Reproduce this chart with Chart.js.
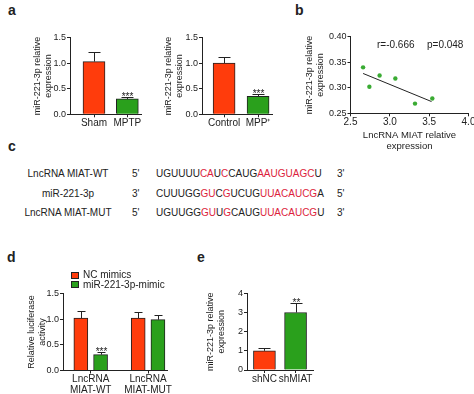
<!DOCTYPE html>
<html>
<head>
<meta charset="utf-8">
<script src="https://cdn.jsdelivr.net/npm/chart.js@4.4.1/dist/chart.umd.min.js"></script>
<style>
  html, body { margin: 0; padding: 0; background: #fff; }
  #fig { position: relative; width: 474px; height: 394px; overflow: hidden; font-family: 'Liberation Sans', Arial, sans-serif; color: #222; }
  #fig canvas { position: absolute; }
  .lbl { position: absolute; font-weight: bold; font-size: 14px; line-height: 14px; }
  .txt { position: absolute; font-size: 10px; line-height: 12px; white-space: nowrap; }
  .red { color: #dc1e3c; }
</style>
</head>
<body>
<div id="fig">
  <div class="lbl" style="left:8px;top:3px">a</div>
  <div class="lbl" style="left:295px;top:3px">b</div>
  <div class="lbl" style="left:8px;top:139px">c</div>
  <div class="lbl" style="left:7px;top:250px">d</div>
  <div class="lbl" style="left:197px;top:250px">e</div>

  <canvas id="chartA1" width="130" height="112" style="left:20px;top:20px"></canvas>
  <canvas id="chartA2" width="132" height="112" style="left:150px;top:20px"></canvas>
  <canvas id="chartB" width="185" height="140" style="left:295px;top:20px"></canvas>
  <canvas id="chartD" width="175" height="132" style="left:0px;top:262px"></canvas>
  <canvas id="chartE" width="135" height="114" style="left:195px;top:280px"></canvas>

  <div id="stats"></div>
  <div id="seqs"></div>
</div>
<script>
// a: MPTP mice
const miceGroups = ['Sham', 'MPTP'];
const miceMeans = [1.03, 0.30];
const miceErr = [0.19, 0.04];
const miceMarks = ['', '***'];

// a: MPP+ cells
const cellGroups = ['Control', 'MPP\u207A'];
const cellMeans = [1.0, 0.35];
const cellErr = [0.11, 0.05];
const cellMarks = ['', '***'];

// b: correlation
const miatExpr = [2.66, 2.74, 2.87, 3.07, 3.32, 3.54];
const mirExpr = [0.340, 0.302, 0.324, 0.318, 0.269, 0.279];
const fitX = [2.66, 3.53];
const fitY = [0.328, 0.273];
const statText = ['r=-0.666', 'p=0.048'];

// c: binding sites (1 = red)
const seqNames = ['LncRNA MIAT-WT', 'miR-221-3p', 'LncRNA MIAT-MUT'];
const seqStart = ["5'", "3'", "5'"];
const seqEnd = ["3'", "5'", "3'"];
const seqText = ['UGUUUUCAUCCAUGAAUGUAGCU', 'CUUUGGGUCGUCUGUUACAUCGA', 'UGUUGGGUUGCAUGUUACAUCGU'];
const seqMask = ['00000011010000111111110', '00000011010000111111110', '00000011010000111111110'];

// d: luciferase
const lucGroups = [['LncRNA', 'MIAT-WT'], ['LncRNA', 'MIAT-MUT']];
const lucSeries = ['NC mimics', 'miR-221-3p-mimic'];
const lucNC = [1.02, 1.02];
const lucNCErr = [0.13, 0.11];
const lucMimic = [0.31, 0.99];
const lucMimicErr = [0.05, 0.10];
const lucMarks = ['***', ''];

// e: knockdown
const shGroups = ['shNC', 'shMIAT'];
const shMeans = [1.0, 3.0];
const shErr = [0.13, 0.47];
const shMarks = ['', '**'];

const INK = '#222';
const RED = '#ff3c0c';
const GREEN = '#2aa01c';
const FONT = "'Liberation Sans', Arial, sans-serif";

Chart.defaults.font.family = FONT;
Chart.defaults.font.size = 10;
Chart.defaults.color = INK;
Chart.defaults.animation = false;

// upper error bars + significance stars
const errorBars = {
  id: 'errorBars',
  afterDatasetsDraw(chart, args, opts) {
    const ctx = chart.ctx;
    const yScale = chart.scales.y;
    chart.data.datasets.forEach((ds, di) => {
      if (!ds.errors) return;
      chart.getDatasetMeta(di).data.forEach((bar, i) => {
        const x = Math.round(bar.x) + 0.5;
        const yTop = Math.round(yScale.getPixelForValue(ds.data[i].y + ds.errors[i])) + 0.5;
        ctx.save();
        ctx.strokeStyle = INK;
        ctx.lineWidth = 1;
        ctx.beginPath();
        ctx.moveTo(x, bar.y);
        ctx.lineTo(x, yTop);
        ctx.moveTo(x - opts.cap, yTop);
        ctx.lineTo(x + opts.cap, yTop);
        ctx.stroke();
        const mark = ds.marks && ds.marks[i];
        if (mark) {
          ctx.fillStyle = INK;
          ctx.font = '10px ' + FONT;
          ctx.textAlign = 'center';
          ctx.textBaseline = 'alphabetic';
          ctx.fillText(mark, x, yTop + 2.5);
        }
        ctx.restore();
      });
    });
  }
};

// stacked legend with square swatches
const boxLegend = {
  id: 'boxLegend',
  afterDraw(chart, args, opts) {
    if (!opts.show) return;
    const ctx = chart.ctx;
    ctx.save();
    ctx.font = '10px ' + FONT;
    ctx.textAlign = 'left';
    ctx.textBaseline = 'middle';
    chart.data.datasets.forEach((ds, i) => {
      const y = opts.y + i * opts.gap;
      const top = Math.round(y - 3.5);
      ctx.fillStyle = ds.backgroundColor;
      ctx.fillRect(opts.x, top, 8, 7);
      ctx.strokeStyle = INK;
      ctx.lineWidth = 1;
      ctx.strokeRect(opts.x + 0.5, top + 0.5, 7, 6);
      ctx.fillStyle = INK;
      ctx.fillText(ds.label, opts.x + 12, y + 0.5);
    });
    ctx.restore();
  }
};

function axisY(width, title, titlePad, min, max, step, digits) {
  return {
    min,
    max,
    afterFit: s => { s.width = width; },
    border: { color: INK, width: 1 },
    grid: { drawOnChartArea: false, tickLength: 3, color: INK },
    ticks: { stepSize: step, padding: 1, font: { size: 9 }, callback: v => Number(v).toFixed(digits) },
    title: { display: true, text: title, padding: { top: titlePad, bottom: 0 }, font: { size: 9, lineHeight: 1.222 } }
  };
}

function axisGroups(labels, min, max, height, lineHeight) {
  return {
    type: 'linear',
    min,
    max,
    offset: false,
    afterFit: s => { s.height = height; },
    afterBuildTicks: s => { s.ticks = labels.map((_, i) => ({ value: i + 1 })); },
    border: { color: INK, width: 1 },
    grid: { offset: false, drawOnChartArea: false, tickLength: 3, color: INK },
    ticks: { padding: 0, autoSkip: false, maxRotation: 0, callback: v => labels[v - 1], font: { lineHeight } }
  };
}

function barOpts(padding, x, y, cap, legend) {
  return {
    responsive: false,
    layout: { padding },
    plugins: {
      legend: { display: false },
      tooltip: { enabled: false },
      errorBars: { cap },
      boxLegend: legend || { show: false }
    },
    scales: { x, y }
  };
}

const yTitle = ['miR-221-3p relative', 'expression'];

new Chart(document.getElementById('chartA1'), {
  type: 'bar',
  data: {
    datasets: [{
      data: miceMeans.map((y, i) => ({ x: i + 1, y })),
      errors: miceErr,
      marks: miceMarks,
      backgroundColor: [RED, GREEN],
      borderColor: INK,
      borderWidth: 1,
      barThickness: 22
    }]
  },
  options: barOpts({ top: 17.5, right: 9, bottom: 0, left: 0 },
    axisGroups(miceGroups, 0.28, 2.41, 17.7, 1.2),
    axisY(50, yTitle, 12.5, 0, 1.5, 0.5, 1), 6),
  plugins: [errorBars]
});

new Chart(document.getElementById('chartA2'), {
  type: 'bar',
  data: {
    datasets: [{
      data: cellMeans.map((y, i) => ({ x: i + 1, y })),
      errors: cellErr,
      marks: cellMarks,
      backgroundColor: [RED, GREEN],
      borderColor: INK,
      borderWidth: 1,
      barThickness: 22
    }]
  },
  options: barOpts({ top: 17.5, right: 10, bottom: 0, left: 0 },
    axisGroups(cellGroups, 0.35, 2.41, 17.7, 1.2),
    axisY(52, yTitle, 13, 0, 1.5, 0.5, 1), 6),
  plugins: [errorBars]
});

new Chart(document.getElementById('chartB'), {
  type: 'scatter',
  data: {
    datasets: [
      {
        data: miatExpr.map((x, i) => ({ x, y: mirExpr[i] })),
        pointRadius: 2.2,
        pointBackgroundColor: '#3aab33',
        pointBorderWidth: 0
      },
      {
        type: 'line',
        data: fitX.map((x, i) => ({ x, y: fitY[i] })),
        borderColor: INK,
        borderWidth: 1,
        pointRadius: 0,
        fill: false
      }
    ]
  },
  options: {
    responsive: false,
    layout: { padding: { top: 16.7, right: 11.5, bottom: 0, left: 0 } },
    plugins: { legend: { display: false }, tooltip: { enabled: false } },
    scales: {
      x: {
        type: 'linear',
        min: 2.5,
        max: 4.0,
        afterFit: s => { s.height = 46.7; },
        border: { color: INK, width: 1 },
        grid: { drawOnChartArea: false, tickLength: 3, color: INK },
        ticks: { stepSize: 0.5, padding: 0, callback: v => Number(v).toFixed(1) },
        title: { display: true, text: ['LncRNA MIAT relative', 'expression'], padding: { top: 0, bottom: 8.5 }, font: { size: 9.5, lineHeight: 1.16 } }
      },
      y: axisY(55.5, yTitle, 9.5, 0.25, 0.40, 0.05, 2)
    }
  }
});

const PAIR = 0.172;
new Chart(document.getElementById('chartD'), {
  type: 'bar',
  data: {
    datasets: [
      {
        label: lucSeries[0],
        data: lucNC.map((y, i) => ({ x: i + 1 - PAIR, y })),
        errors: lucNCErr,
        backgroundColor: RED,
        borderColor: INK,
        borderWidth: 1,
        barThickness: 14,
        grouped: false
      },
      {
        label: lucSeries[1],
        data: lucMimic.map((y, i) => ({ x: i + 1 + PAIR, y })),
        errors: lucMimicErr,
        marks: lucMarks,
        backgroundColor: GREEN,
        borderColor: INK,
        borderWidth: 1,
        barThickness: 14,
        grouped: false
      }
    ]
  },
  options: barOpts({ top: 31.5, right: 8, bottom: 0, left: 0 },
    axisGroups(lucGroups, 0.517, 2.33, 23.5, 1.1),
    axisY(63, ['Relative luciferase', 'activity'], 26, 0, 1.5, 0.5, 1), 4,
    { show: true, x: 71, y: 13, gap: 9.7 }),
  plugins: [errorBars, boxLegend]
});

new Chart(document.getElementById('chartE'), {
  type: 'bar',
  data: {
    datasets: [{
      data: shMeans.map((y, i) => ({ x: i + 1, y })),
      errors: shErr,
      marks: shMarks,
      backgroundColor: [RED, GREEN],
      borderColor: INK,
      borderWidth: 1,
      barThickness: 22
    }]
  },
  options: barOpts({ top: 13.3, right: 17, bottom: 0, left: 0 },
    axisGroups(shGroups, 0.44, 2.56, 24, 1.2),
    axisY(52, yTitle, 10.5, 0, 4, 1, 0), 6),
  plugins: [errorBars]
});

// b: statistics text
const stats = document.getElementById('stats');
[377, 427].forEach((left, i) => {
  const d = document.createElement('div');
  d.className = 'txt';
  d.style.left = left + 'px';
  d.style.top = '39px';
  d.textContent = statText[i];
  stats.appendChild(d);
});

// c: sequence alignment
const seqs = document.getElementById('seqs');
const rowY = [174, 194, 212.5];
seqNames.forEach((name, r) => {
  const top = (rowY[r] - 6) + 'px';
  const add = (html, style) => {
    const d = document.createElement('div');
    d.className = 'txt';
    d.style.top = top;
    Object.assign(d.style, style);
    d.innerHTML = html;
    seqs.appendChild(d);
  };
  add(name, { left: '18px', width: '100px', textAlign: 'center' });
  add(seqStart[r], { left: '132px' });
  let html = '';
  let run = '';
  let cur = seqMask[r][0];
  for (let i = 0; i <= seqText[r].length; i++) {
    const m = seqMask[r][i];
    if (i === seqText[r].length || m !== cur) {
      html += cur === '1' ? '<span class="red">' + run + '</span>' : run;
      run = '';
      cur = m;
    }
    if (i < seqText[r].length) run += seqText[r][i];
  }
  add(html, { left: '156px' });
  add(seqEnd[r], { left: '337px' });
});
</script>
</body>
</html>
